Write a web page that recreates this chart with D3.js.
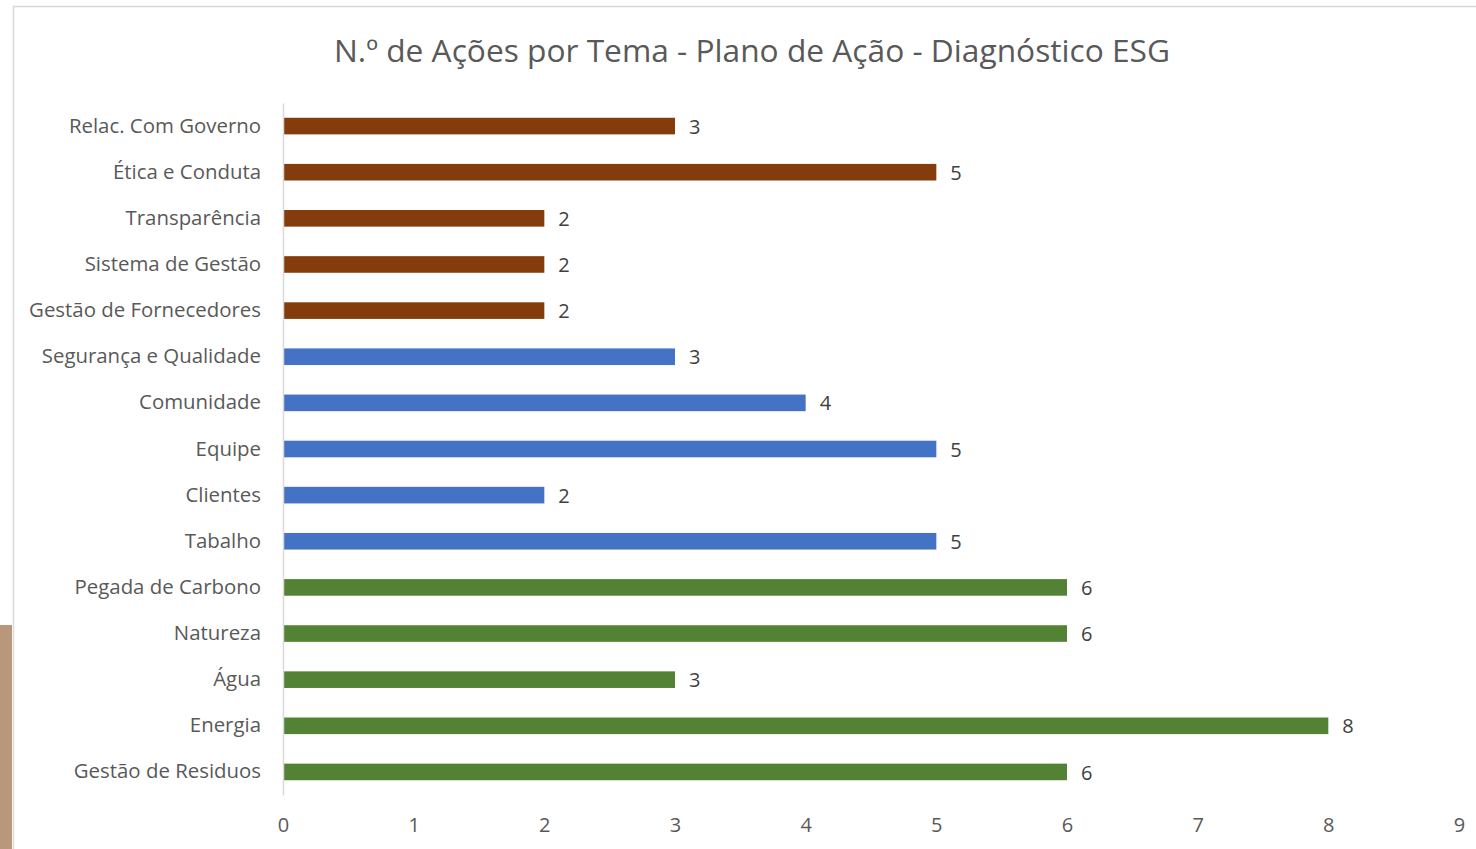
<!DOCTYPE html>
<html>
<head>
<meta charset="utf-8">
<script src="https://cdn.jsdelivr.net/npm/d3@7"></script>
<style>
  body { margin: 0; background: #fff; }
  text { font-family: "Open Sans", sans-serif; }
</style>
</head>
<body>
<svg id="chart" width="1476" height="849"></svg>
<script>
// chart data, top to bottom
var categories = ["Relac. Com Governo", "Ética e Conduta", "Transparência", "Sistema de Gestão",
  "Gestão de Fornecedores", "Segurança e Qualidade", "Comunidade", "Equipe", "Clientes", "Tabalho",
  "Pegada de Carbono", "Natureza", "Água", "Energia", "Gestão de Residuos"];
var values = [3, 5, 2, 2, 2, 3, 4, 5, 2, 5, 6, 6, 3, 8, 6];
var groups = ["G", "G", "G", "G", "G", "S", "S", "S", "S", "S", "E", "E", "E", "E", "E"];
var xTicks = [0, 1, 2, 3, 4, 5, 6, 7, 8, 9];
var title = "N.º de Ações por Tema - Plano de Ação - Diagnóstico ESG";

var colors = {G: "#843c0c", S: "#4472c4", E: "#548235"};

var svg = d3.select("#chart");

// slide decoration + chart frame
svg.append("rect").attr("x", 0).attr("y", 625).attr("width", 12).attr("height", 224).attr("fill", "#b8977a");
svg.append("rect").attr("x", 13.5).attr("y", 6.5).attr("width", 1500).attr("height", 900)
  .attr("fill", "#fff").attr("stroke", "#d9d9d9").attr("stroke-width", 1.5);

var x = d3.scaleLinear().domain([0, 9]).range([283, 1459]);
var y = d3.scaleBand().domain(categories).range([103, 795]).paddingInner(0.64).paddingOuter(0.32);

svg.append("text")
  .attr("x", 752).attr("y", 62)
  .attr("text-anchor", "middle")
  .attr("fill", "#595959")
  .style("font-size", "31.7px")
  .text(title);

// bars
svg.selectAll(".bar")
  .data(values)
  .enter().append("rect")
  .attr("class", "bar")
  .attr("x", x(0))
  .attr("y", (d, i) => y(categories[i]))
  .attr("width", d => x(d) - x(0))
  .attr("height", y.bandwidth())
  .attr("fill", (d, i) => colors[groups[i]]);

// value labels
svg.selectAll(".val")
  .data(values)
  .enter().append("text")
  .attr("class", "val")
  .attr("x", d => x(d) + 14)
  .attr("y", (d, i) => y(categories[i]) + y.bandwidth() / 2)
  .attr("dy", "0.38em")
  .attr("fill", "#404040")
  .style("font-size", "20px")
  .text(d => d);

// category axis
var yAxis = svg.append("g")
  .attr("transform", "translate(" + x(0) + ",0)")
  .call(d3.axisLeft(y).tickSize(0).tickPadding(22));
yAxis.select(".domain").attr("stroke", "#d9d9d9").attr("stroke-width", 1.5);
yAxis.selectAll("text").attr("fill", "#595959").style("font-size", "20.4px")
  .style("font-family", "'Open Sans', sans-serif");

// value axis (labels only)
var xAxis = svg.append("g")
  .attr("transform", "translate(0,814)")
  .call(d3.axisBottom(x).tickValues(xTicks).tickSize(0).tickPadding(4));
xAxis.select(".domain").remove();
xAxis.selectAll("text").attr("fill", "#595959").style("font-size", "20px")
  .style("font-family", "'Open Sans', sans-serif");
</script>
</body>
</html>
